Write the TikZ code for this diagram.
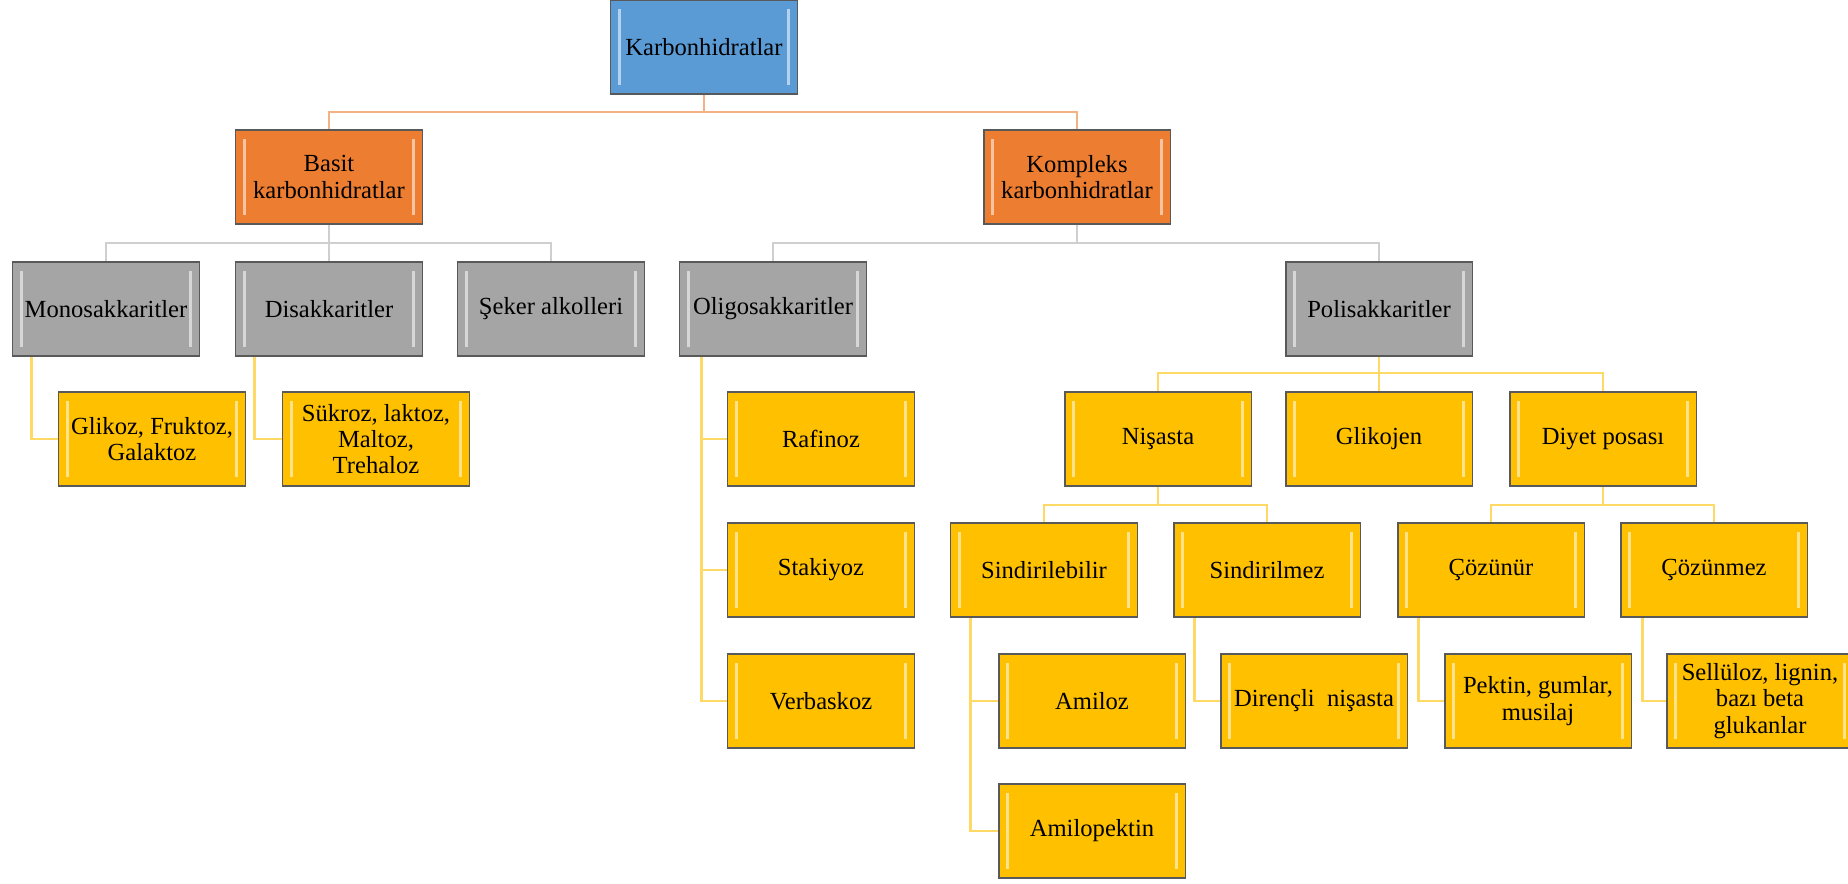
\documentclass[tikz,border=0pt]{standalone}
\usepackage{fontspec}
\setmainfont{Liberation Serif}
\usetikzlibrary{calc}

\definecolor{mavi}{HTML}{5B9BD5}
\definecolor{turuncu}{HTML}{ED7D31}
\definecolor{gri}{HTML}{A5A5A5}
\definecolor{sari}{HTML}{FFC000}
\definecolor{turhatrenk}{HTML}{F4B183}
\definecolor{grihatrenk}{HTML}{CFCFCF}
\definecolor{sarihatrenk}{HTML}{FFD966}

\tikzset{
  kutu/.style={draw=black!65,line width=1.1pt,minimum width=3.74cm,minimum height=1.88cm,
    inner sep=1pt,align=center,font=\fontsize{14}{15}\selectfont,
    path picture={
      \draw[white,opacity=0.55,line width=1.5pt]
        ([xshift=5pt,yshift=-5pt]path picture bounding box.north west) --
        ([xshift=5pt,yshift=5pt]path picture bounding box.south west)
        ([xshift=-5pt,yshift=-5pt]path picture bounding box.north east) --
        ([xshift=-5pt,yshift=5pt]path picture bounding box.south east);}},
  ust/.style={kutu,fill=mavi},
  ikinci/.style={kutu,fill=turuncu},
  ucuncu/.style={kutu,fill=gri},
  alt/.style={kutu,fill=sari},
  turhat/.style={turhatrenk,line width=1.6pt},
  grihat/.style={grihatrenk,line width=1.6pt},
  sarihat/.style={sarihatrenk,line width=1.3pt}
}

\begin{document}
\begin{tikzpicture}[x=0.02cm,y=-0.02cm]
\useasboundingbox (0,0) rectangle (1848,883);

\node[ust] (karb) at (704,47) {Karbonhidratlar};

\node[ikinci] (basit) at (329,177) {Basit\\karbonhidratlar};
\node[ikinci] (kompleks) at (1077,177) {Kompleks\\karbonhidratlar};

\node[ucuncu] (mono) at (106,309) {Monosakkaritler};
\node[ucuncu] (disak) at (329,309) {Disakkaritler};
\node[ucuncu] (seker) at (551,309) {Şeker alkolleri};
\node[ucuncu] (oligo) at (773,309) {Oligosakkaritler};
\node[ucuncu] (poli) at (1379,309) {Polisakkaritler};

\node[alt] (glikoz) at (152,439) {Glikoz, Fruktoz,\\Galaktoz};
\node[alt] (sukroz) at (376,439) {Sükroz, laktoz,\\Maltoz,\\Trehaloz};
\node[alt] (rafinoz) at (821,439) {Rafinoz};
\node[alt] (stakiyoz) at (821,570) {Stakiyoz};
\node[alt] (verbaskoz) at (821,701) {Verbaskoz};

\node[alt] (nisasta) at (1158,439) {Nişasta};
\node[alt] (glikojen) at (1379,439) {Glikojen};
\node[alt] (diyet) at (1603,439) {Diyet posası};

\node[alt] (sindirilir) at (1044,570) {Sindirilebilir};
\node[alt] (sindirilmez) at (1267,570) {Sindirilmez};
\node[alt] (cozunur) at (1491,570) {Çözünür};
\node[alt] (cozunmez) at (1714,570) {Çözünmez};

\node[alt] (amiloz) at (1092,701) {Amiloz};
\node[alt] (amilopektin) at (1092,831) {Amilopektin};
\node[alt] (direncli) at (1314,701) {Dirençli\ \ nişasta};
\node[alt] (pektin) at (1538,701) {Pektin, gumlar,\\musilaj};
\node[alt] (selluloz) at (1760,701) {Sellüloz, lignin,\\bazı beta\\glukanlar};

% baglantilar
\foreach \c in {basit,kompleks}
  \draw[turhat] (karb.south) -- ++(0,17) -| (\c.north);
\foreach \c in {mono,disak,seker}
  \draw[grihat] (basit.south) -- ++(0,18) -| (\c.north);
\foreach \c in {oligo,poli}
  \draw[grihat] (kompleks.south) -- ++(0,18) -| (\c.north);
\foreach \c in {nisasta,glikojen,diyet}
  \draw[sarihat] (poli.south) -- ++(0,16) -| (\c.north);
\foreach \c in {sindirilir,sindirilmez}
  \draw[sarihat] (nisasta.south) -- ++(0,18) -| (\c.north);
\foreach \c in {cozunur,cozunmez}
  \draw[sarihat] (diyet.south) -- ++(0,18) -| (\c.north);

\draw[sarihat] ([xshift=0.4cm]mono.south west) |- (glikoz.west);
\draw[sarihat] ([xshift=0.4cm]disak.south west) |- (sukroz.west);
\foreach \c in {rafinoz,stakiyoz,verbaskoz}
  \draw[sarihat] ([xshift=0.46cm]oligo.south west) |- (\c.west);
\foreach \c in {amiloz,amilopektin}
  \draw[sarihat] ([xshift=0.42cm]sindirilir.south west) |- (\c.west);
\draw[sarihat] ([xshift=0.44cm]sindirilmez.south west) |- (direncli.west);
\draw[sarihat] ([xshift=0.44cm]cozunur.south west) |- (pektin.west);
\draw[sarihat] ([xshift=0.46cm]cozunmez.south west) |- (selluloz.west);
\end{tikzpicture}
\end{document}
